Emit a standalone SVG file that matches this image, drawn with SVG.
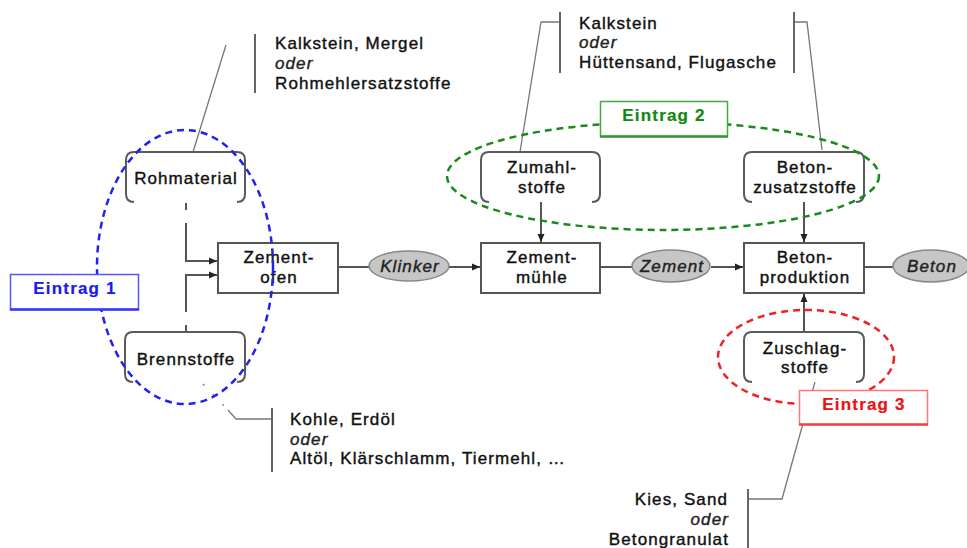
<svg xmlns="http://www.w3.org/2000/svg" width="967" height="548" viewBox="0 0 967 548">
<defs>
<marker id="arr" markerUnits="userSpaceOnUse" markerWidth="8" markerHeight="8" refX="8" refY="4" orient="auto">
<path d="M0,0.5 L8,4 L0,7.5 z" fill="#222"/>
</marker>
<style>
text{font-family:"Liberation Sans",Arial,sans-serif;font-size:17px;fill:#111;stroke:#111;stroke-width:0.4px;letter-spacing:1.1px}
.c{text-anchor:middle}
.it{font-style:italic;fill:#222;stroke:#222}
.e{font-weight:bold;letter-spacing:1.2px;stroke-width:0.2px}
.node{fill:none;stroke:#5a5a5a;stroke-width:2}
.box{fill:#fff;stroke:#555;stroke-width:2}
.pill{fill:#c6c6c6;stroke:#888;stroke-width:1.5}
.conn{fill:none;stroke:#555;stroke-width:2}
.lead{fill:none;stroke:#777;stroke-width:1.3}
.brk{fill:none;stroke:#666;stroke-width:2}
.ell{fill:none;stroke-width:2.5;stroke-dasharray:7 5}
</style>
</defs>
<rect width="967" height="548" fill="#fff"/>

<g id="leaders">
<path class="lead" d="M193,152 L226,45"/>
<path class="brk" d="M255,34 V93"/>
<path class="lead" d="M520,152 L541,22 H560"/>
<path class="brk" d="M560,12 V73"/>
<path class="lead" d="M822,150 L807,22 H794"/>
<path class="brk" d="M794,12 V73"/>
<path class="lead" d="M203,384 L228,410" stroke-dasharray="2 12"/>
<path class="lead" d="M228,410 L236,419 H272"/>
<path class="brk" d="M272,408 V472"/>
<path class="lead" d="M815,382 L802,427 L782,499 H748"/>
<path class="brk" d="M748,489 V548"/>
</g>

<g id="connectors">
<path class="conn" d="M186,203 V210"/>
<path class="conn" d="M186,223 V261 H217" marker-end="url(#arr)"/>
<path class="conn" d="M186,325 V332"/>
<path class="conn" d="M186,312 V275 H217" marker-end="url(#arr)"/>
<path class="conn" d="M338,267 H369"/>
<path class="conn" d="M449,267 H480" marker-end="url(#arr)"/>
<path class="conn" d="M600,267 H632"/>
<path class="conn" d="M711,267 H743" marker-end="url(#arr)"/>
<path class="conn" d="M864,267 H893"/>
<path class="conn" d="M541,202 V242" marker-end="url(#arr)"/>
<path class="conn" d="M804,202 V242" marker-end="url(#arr)"/>
<path class="conn" d="M804,332 V294" marker-end="url(#arr)"/>
</g>

<g id="rohmaterial">
<path class="node" d="M134,202 Q126,202 126,194 V160 Q126,152 134,152 H237 Q245,152 245,160 V194 Q245,202 237,202"/>
<text class="c" x="186" y="184">Rohmaterial</text>
</g>
<g id="brennstoffe">
<path class="node" d="M133,382 Q125,382 125,374 V340 Q125,332 133,332 H237 Q245,332 245,340 V374 Q245,382 237,382"/>
<text class="c" x="186" y="365">Brennstoffe</text>
</g>
<g id="zementofen">
<rect class="box" x="218" y="243" width="120" height="50"/>
<text class="c" x="279" y="263">Zement-</text>
<text class="c" x="279" y="283">ofen</text>
</g>
<g id="klinker">
<ellipse class="pill" cx="409" cy="266" rx="40" ry="15"/>
<text class="c it" x="410" y="272">Klinker</text>
</g>
<g id="zumahlstoffe">
<path class="node" d="M489,202 Q481,202 481,194 V160 Q481,152 489,152 H592 Q600,152 600,160 V194 Q600,202 592,202"/>
<text class="c" x="542" y="173">Zumahl-</text>
<text class="c" x="542" y="193">stoffe</text>
</g>
<g id="zementmuehle">
<rect class="box" x="481" y="243" width="119" height="50"/>
<text class="c" x="542" y="263">Zement-</text>
<text class="c" x="542" y="283">mühle</text>
</g>
<g id="zement">
<ellipse class="pill" cx="671" cy="266" rx="39" ry="16"/>
<text class="c it" x="672" y="272">Zement</text>
</g>
<g id="betonzusatzstoffe">
<path class="node" d="M752,202 Q744,202 744,194 V160 Q744,152 752,152 H856 Q864,152 864,160 V194 Q864,202 856,202"/>
<text class="c" x="805" y="173">Beton-</text>
<text class="c" x="805" y="193">zusatzstoffe</text>
</g>
<g id="betonproduktion">
<rect class="box" x="744" y="243" width="120" height="50"/>
<text class="c" x="805" y="263">Beton-</text>
<text class="c" x="805" y="283">produktion</text>
</g>
<g id="beton">
<ellipse class="pill" cx="931" cy="266" rx="38" ry="16"/>
<text class="c it" x="932" y="272">Beton</text>
</g>
<g id="zuschlagstoffe">
<path class="node" d="M752,382 Q744,382 744,374 V340 Q744,332 752,332 H856 Q864,332 864,340 V374 Q864,382 856,382"/>
<text class="c" x="805" y="354">Zuschlag-</text>
<text class="c" x="805" y="373">stoffe</text>
</g>

<g id="labels">
<text x="275" y="49">Kalkstein, Mergel</text>
<text class="it" x="275" y="69">oder</text>
<text x="275" y="89">Rohmehlersatzstoffe</text>
<text x="579" y="29">Kalkstein</text>
<text class="it" x="579" y="48">oder</text>
<text x="579" y="68">Hüttensand, Flugasche</text>
<text x="290" y="425">Kohle, Erdöl</text>
<text class="it" x="290" y="445">oder</text>
<text x="290" y="464">Altöl, Klärschlamm, Tiermehl, …</text>
<text x="728" y="505" text-anchor="end">Kies, Sand</text>
<text class="it" x="729" y="525" text-anchor="end">oder</text>
<text x="729" y="545" text-anchor="end">Betongranulat</text>
</g>

<g id="eintrag1">
<ellipse class="ell" cx="185" cy="267" rx="88" ry="137" stroke="#2222ee"/>
<rect x="10.5" y="274.5" width="128" height="35" fill="#fff" stroke="#5555ff" stroke-width="1.5"/>
<line x1="10" y1="309.5" x2="139" y2="309.5" stroke="#3333ff" stroke-width="2.5"/>
<text class="c e" x="75" y="294" style="fill:#1a1aee;stroke:#1a1aee">Eintrag 1</text>
</g>
<g id="eintrag2">
<ellipse class="ell" cx="663" cy="176" rx="216" ry="54" stroke="#1a8a1a"/>
<rect x="600.5" y="101.5" width="127" height="35" fill="#fff" stroke="#44aa44" stroke-width="1.5"/>
<line x1="600" y1="136.5" x2="728" y2="136.5" stroke="#2e9a2e" stroke-width="2.5"/>
<text class="c e" x="664" y="121" style="fill:#118811;stroke:#118811">Eintrag 2</text>
</g>
<g id="eintrag3">
<ellipse class="ell" cx="806" cy="357" rx="88" ry="47" stroke="#ee2222"/>
<rect x="799.5" y="390.5" width="128" height="34" fill="#fff" stroke="#ff7777" stroke-width="1.5"/>
<line x1="799" y1="424.5" x2="928" y2="424.5" stroke="#ee4444" stroke-width="2.5"/>
<text class="c e" x="864" y="410" style="fill:#ee1111;stroke:#ee1111">Eintrag 3</text>
</g>
</svg>
